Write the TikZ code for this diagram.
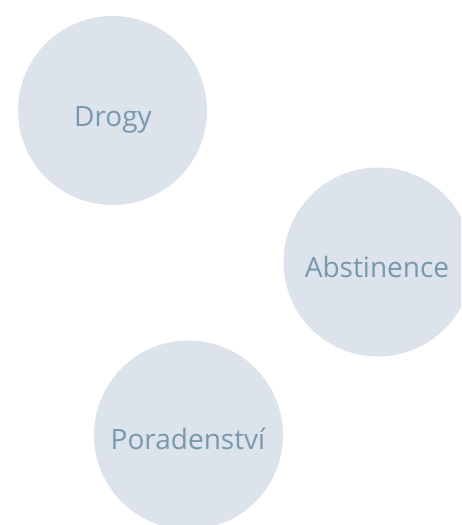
\documentclass[tikz,border=0pt]{standalone}
\usepackage{fontspec}
\setmainfont{Open Sans}
\definecolor{bubble}{HTML}{DCE3EB}
\definecolor{bubbletext}{HTML}{7898AE}
\begin{document}
\begin{tikzpicture}[x=1pt,y=-1pt,
  bubblenode/.style={circle,fill=bubble,draw=none,minimum size=189pt,inner sep=0pt},
  bubblelabel/.style={anchor=base,text=bubbletext,font=\fontsize{28}{32}\selectfont,inner sep=0pt}]
\useasboundingbox (0,0) rectangle (461,525);
\begin{scope}
\clip (0,0) rectangle (461,525);
\node[bubblenode] (drogy) at (112.5,110.5) {};
\node[bubblenode] (abst) at (378,262) {};
\node[bubblenode] (porad) at (188.5,435) {};
\end{scope}
\node[bubblelabel] (tdrogy) at (113,126) {Drogy};
\node[bubblelabel] (tabst) at (377,277) {Abstinence};
\node[bubblelabel] (tporad) at (188,449) {Poradenství};
\end{tikzpicture}
\end{document}
